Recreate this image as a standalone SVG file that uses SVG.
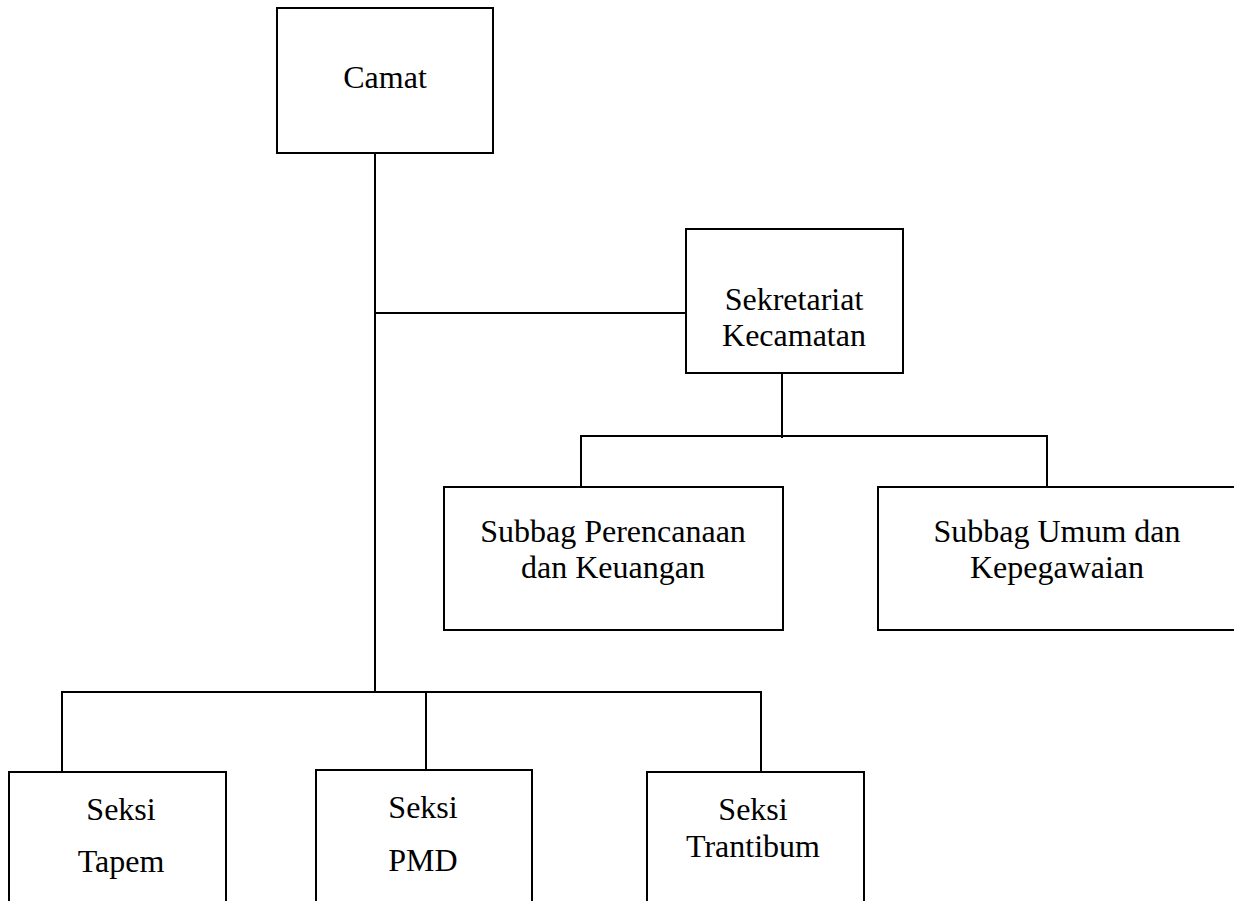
<svg xmlns="http://www.w3.org/2000/svg" width="1234" height="901" viewBox="0 0 1234 901">
<style>
.box{fill:#fff;stroke:#000;stroke-width:2}
.ln{fill:none;stroke:#000;stroke-width:2}
text{font-family:"Liberation Serif","Times New Roman",serif;font-size:32px;fill:#000;text-anchor:middle}
</style>
<rect width="1234" height="901" fill="#fff"/>
<g id="connectors">
<path class="ln" d="M375 153V692"/>
<path class="ln" d="M375 313H686"/>
<path class="ln" d="M62 771V692H761V772"/>
<path class="ln" d="M426 692V770"/>
<path class="ln" d="M782 373V438"/>
<path class="ln" d="M581 487V436H1047V487"/>
</g>
<g id="camat">
<rect class="box" x="277" y="8" width="216" height="145"/>
<text x="385" y="88">Camat</text>
</g>
<g id="sekretariat">
<rect class="box" x="686" y="229" width="217" height="144"/>
<text x="794" y="310">Sekretariat</text>
<text x="794" y="346">Kecamatan</text>
</g>
<g id="subbag-perencanaan">
<rect class="box" x="444" y="487" width="339" height="143"/>
<text x="613" y="542">Subbag Perencanaan</text>
<text x="613" y="578">dan Keuangan</text>
</g>
<g id="subbag-umum">
<rect class="box" x="878" y="487" width="370" height="143"/>
<text x="1057" y="542">Subbag Umum dan</text>
<text x="1057" y="578">Kepegawaian</text>
</g>
<g id="seksi-tapem">
<rect class="box" x="9" y="772" width="217" height="150"/>
<text x="121" y="820">Seksi</text>
<text x="121" y="872">Tapem</text>
</g>
<g id="seksi-pmd">
<rect class="box" x="316" y="770" width="216" height="150"/>
<text x="423" y="818">Seksi</text>
<text x="423" y="871">PMD</text>
</g>
<g id="seksi-trantibum">
<rect class="box" x="647" y="772" width="217" height="150"/>
<text x="753" y="820">Seksi</text>
<text x="753" y="857">Trantibum</text>
</g>
</svg>
